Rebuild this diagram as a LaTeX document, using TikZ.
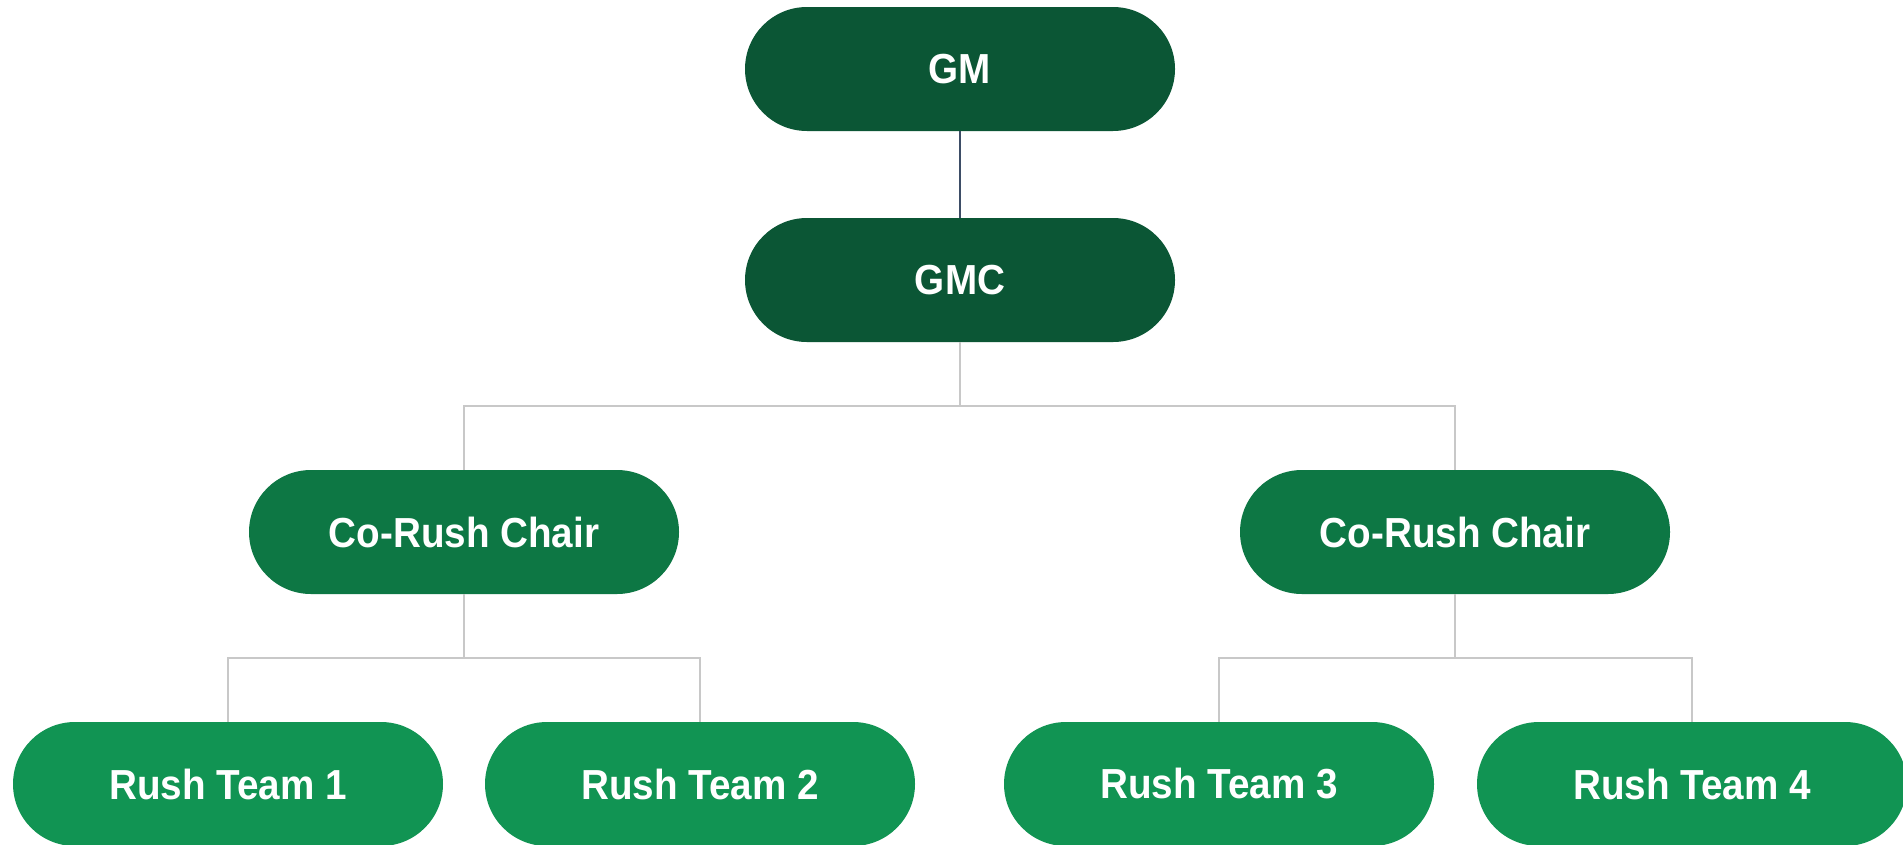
\documentclass[tikz,border=0pt]{standalone}
\usepackage{fontspec}
\setmainfont{Liberation Sans}[FakeStretch=0.92]
\definecolor{gmgreen}{HTML}{0B5635}
\definecolor{cogreen}{HTML}{0D7744}
\definecolor{rtgreen}{HTML}{119453}
\definecolor{conngray}{HTML}{C8C8C8}
\definecolor{conndark}{HTML}{3D4D66}
\begin{document}
\begin{tikzpicture}[x=1pt,y=-1pt,
  pill/.style={rectangle,rounded corners=62pt,minimum width=430pt,minimum height=124pt,
    inner sep=0pt,text=white,font=\fontsize{42}{48}\selectfont\bfseries},
  gmbox/.style={pill,fill=gmgreen},
  cobox/.style={pill,fill=cogreen},
  rtbox/.style={pill,fill=rtgreen},
  conn/.style={draw=conngray,line width=2pt},
  conndk/.style={draw=conndark,line width=2pt}]
\useasboundingbox (0,0) rectangle (1903,844);
\clip (0,0) rectangle (1903,844);
\fill[white] (0,0) rectangle (1903,844);
% connectors first
\coordinate (b1) at (960,406);
\coordinate (b2) at (464,658);
\coordinate (b3) at (1455,658);
\node[gmbox] (gm) at (960,69) {GM};
\node[gmbox] (gmc) at (960,280) {GMC};
\node[cobox] (co1) at (464,532) {Co-Rush Chair};
\node[cobox] (co2) at (1455,532) {Co-Rush Chair};
\node[rtbox] (rt1) at (228,784) {Rush Team 1};
\node[rtbox] (rt2) at (700,784) {Rush Team 2};
\node[rtbox] (rt3) at (1219,784) {Rush Team 3};
\node[rtbox] (rt4) at (1692,784) {Rush Team 4};
\begin{scope}[on background layer/.try]
\end{scope}
\draw[conndk] (gm.south) -- (gmc.north);
\draw[conn] (gmc.south) -- (b1);
\draw[conn] (b1) -| (co1.north);
\draw[conn] (b1) -| (co2.north);
\draw[conn] (co1.south) -- (b2);
\draw[conn] (b2) -| (rt1.north);
\draw[conn] (b2) -| (rt2.north);
\draw[conn] (co2.south) -- (b3);
\draw[conn] (b3) -| (rt3.north);
\draw[conn] (b3) -| (rt4.north);
\end{tikzpicture}
\end{document}
